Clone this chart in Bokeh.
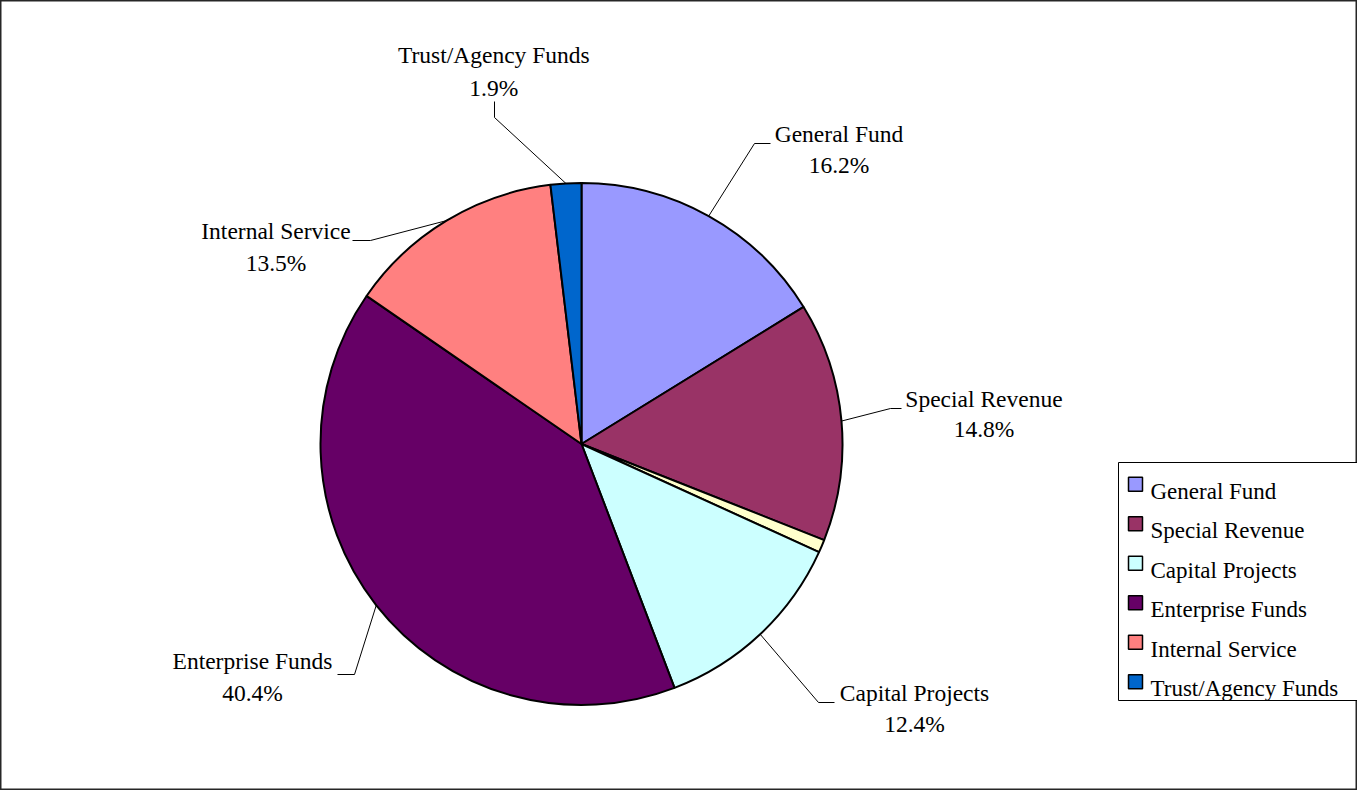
import math
from bokeh.plotting import figure
from bokeh.models import Range1d, ColumnDataSource
from bokeh.core.properties import value
from bokeh.embed import file_html
from bokeh.resources import INLINE

# ---------------- data ----------------
slice_names = ["General Fund", "Special Revenue", "Other", "Capital Projects",
               "Enterprise Funds", "Internal Service", "Trust/Agency Funds"]
slice_pct = [16.2, 14.8, 0.8, 12.4, 40.4, 13.5, 1.9]
slice_colors = ["#9999FF", "#993366", "#FFFFCC", "#CCFFFF", "#660066", "#FF8080", "#0066CC"]
slice_labeled = [True, True, False, True, True, True, True]

# ---------------- layout (screen-like coordinates of page) ----------------
W, H = 1357, 790
FONT = value("Liberation Serif")
FS = value("23.5px")


def Y(ry):
    return 798 - ry


CX, CY, R = 589.0, Y(451.5), 261.0

# label placement: (text centre x, baseline line1, baseline line2, elbow, end) in page px
label_layout = {
    "General Fund": (846.5, 141.7, 172.7, (762, 151), (778, 151)),
    "Special Revenue": (991.5, 406.0, 436.7, (898, 416), (909, 416)),
    "Capital Projects": (922.0, 700.0, 731.0, (826, 710), (842, 710)),
    "Enterprise Funds": (260.0, 668.3, 700.0, (362, 682), (345, 682)),
    "Internal Service": (283.5, 238.3, 270.0, (378, 248), (360, 248)),
    "Trust/Agency Funds": (501.3, 62.7, 95.0, (502, 125), (502, 109)),
}

p = figure(width=W, height=H, x_range=Range1d(8, 8 + W), y_range=Range1d(0, H),
           output_backend="svg", toolbar_location=None, x_axis_type=None,
           y_axis_type=None, min_border=0, tools="")
p.grid.visible = False
p.outline_line_color = "#262626"
p.outline_line_width = 2
p.background_fill_color = "white"
p.border_fill_color = "white"

total = sum(slice_pct)
starts, ends, mids = [], [], []
cum = 0.0
for v in slice_pct:
    a0 = cum / total
    cum += v
    a1 = cum / total
    starts.append(math.pi / 2 - 2 * math.pi * a0)
    ends.append(math.pi / 2 - 2 * math.pi * a1)
    mids.append(math.pi / 2 - 2 * math.pi * (a0 + a1) / 2)

src = ColumnDataSource(dict(x=[CX] * len(slice_pct), y=[CY] * len(slice_pct),
                            start=starts, end=ends, color=slice_colors,
                            name=slice_names))
p.wedge(x="x", y="y", radius=R, start_angle="start", end_angle="end",
        direction="clock", fill_color="color", line_color="black",
        line_width=2, source=src)

# leader lines + labels
lx, ly = [], []
tx, ty, tt = [], [], []
for name, pct, mid, lab in zip(slice_names, slice_pct, mids, slice_labeled):
    if not lab:
        continue
    cx_, b1, b2, elbow, end = label_layout[name]
    sx = CX + R * math.cos(mid)
    sy = CY + R * math.sin(mid)
    lx.append([sx, elbow[0], end[0]])
    ly.append([sy, Y(elbow[1]), Y(end[1])])
    tx += [cx_, cx_]
    ty += [Y(b1), Y(b2)]
    tt += [name, f"{pct:.1f}%"]

p.multi_line(xs=lx, ys=ly, line_color="black", line_width=1)
p.text(x=tx, y=ty, text=tt, text_font=FONT, text_font_size=FS,
       text_align="center", text_baseline="alphabetic", text_color="black")

# legend (manual)
leg_names = [n for n, l in zip(slice_names, slice_labeled) if l]
leg_colors = [c for c, l in zip(slice_colors, slice_labeled) if l]
p.quad(left=[1126], right=[1370], top=[Y(470)], bottom=[Y(708)],
       fill_color="white", line_color="black", line_width=1)
row0, step = 491.7, 39.5
sq_y = [Y(row0 + i * step) for i in range(len(leg_names))]
p.rect(x=[1143] * len(leg_names), y=sq_y, width=14, height=14,
       fill_color=leg_colors, line_color="black", line_width=1.5)
p.text(x=[1158] * len(leg_names), y=[Y(row0 + i * step + 6.8) for i in range(len(leg_names))],
       text=leg_names, text_font=FONT, text_font_size=value("23px"),
       text_align="left", text_baseline="alphabetic", text_color="black")

open("out.html", "w").write(file_html(p, INLINE))
